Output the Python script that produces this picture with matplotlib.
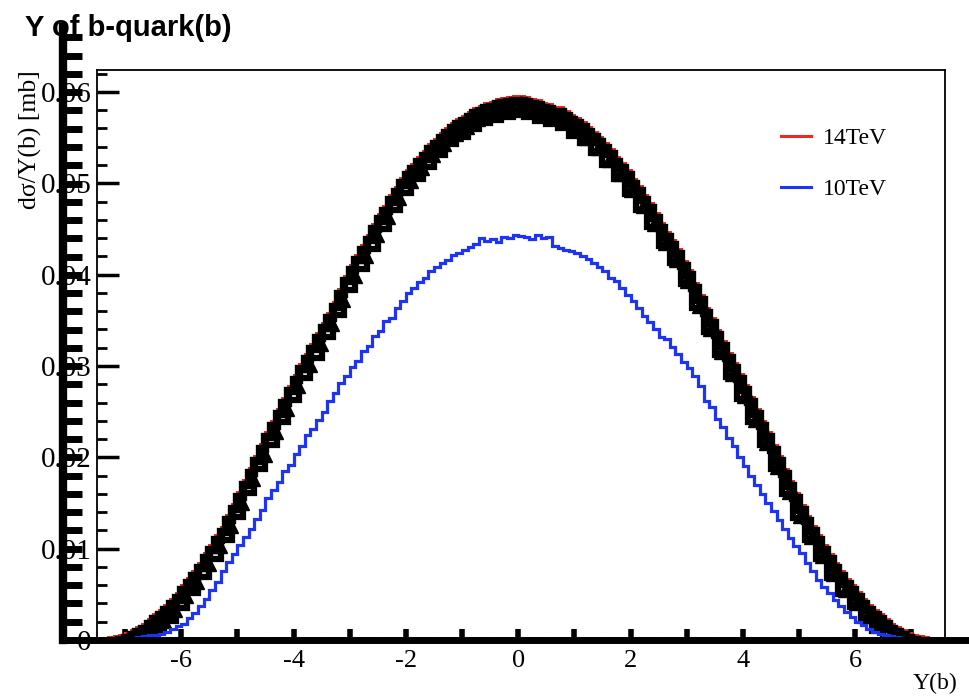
import numpy as np
import matplotlib
matplotlib.use('Agg')
import matplotlib.pyplot as plt
import matplotlib.transforms as mtransforms
from matplotlib.lines import Line2D
from matplotlib.ticker import MultipleLocator

# ---------------- data (bin contents in units of 1e-4 mb, 150 bins from -7.5 to 7.5) ----
x_min, x_max, n_bins = -7.5, 7.5, 150

y14_e4 = [
    1, 2, 3, 4, 6, 8, 11, 14, 18, 23, 28, 33, 38, 45, 52, 60, 68, 76, 84, 95,
    104, 115, 124, 137, 149, 162, 175, 188, 201, 215, 228, 240, 253, 265, 278, 290, 302, 313, 324, 336,
    347, 358, 370, 384, 398, 410, 422, 432, 443, 455, 466, 475, 487, 496, 506, 514, 521, 529, 535, 543,
    549, 555, 561, 566, 570, 574, 578, 582, 585, 588, 589, 592, 593, 594, 595,
    596, 594, 592, 591, 588, 587, 584, 583, 579, 575, 571, 567, 562, 556, 551, 544, 537, 529, 522, 514,
    505, 497, 487, 478, 468, 457, 447, 438, 428, 415, 405, 391, 378, 364, 352, 339, 327, 314, 303, 291,
    279, 266, 253, 240, 228, 214, 201, 187, 174, 161, 148, 136, 125, 115, 104, 94, 84, 76, 67, 60,
    53, 45, 38, 33, 28, 23, 18, 14, 11, 8, 6, 4, 3, 2, 1,
]

y10_e4 = [
    0, 0, 1, 1, 2, 2, 2, 3, 4, 5, 6, 7, 9, 12, 15, 18, 24, 30, 37, 45,
    55, 63, 75, 85, 94, 104, 113, 122, 133, 142, 156, 164, 173, 185, 192, 204, 212, 224, 231, 241,
    250, 262, 270, 281, 289, 299, 305, 316, 322, 333, 338, 349, 353, 364, 371, 380, 385, 392, 396, 404,
    408, 413, 416, 421, 424, 427, 430, 434, 440, 437, 439, 436, 441, 440, 443,
    442, 441, 439, 443, 440, 441, 431, 429, 427, 426, 424, 420, 417, 413, 408, 404, 396, 393, 385, 378,
    371, 364, 355, 348, 340, 332, 329, 321, 313, 304, 298, 289, 278, 262, 255, 242, 233, 221, 212, 200,
    191, 180, 170, 160, 150, 141, 131, 122, 112, 103, 95, 84, 75, 66, 58, 51, 44, 37, 31, 25,
    20, 16, 12, 9, 7, 5, 4, 3, 2, 2, 1, 1, 1, 0, 0,
]

series_labels = ['14TeV', '10TeV']
x_major = [-7, -6, -5, -4, -3, -2, -1, 0, 1, 2, 3, 4, 5, 6, 7]
x_labeled = [-6, -4, -2, 0, 2, 4, 6]
y_ticks = [0, 0.01, 0.02, 0.03, 0.04, 0.05, 0.06]
y_tick_labels = ['0', '0.01', '0.02', '0.03', '0.04', '0.05', '0.06']

title = 'Y of b-quark(b)'
x_title = 'Y(b)'
y_title = 'dσ/Y(b) [mb]'

RED = '#ee2a1f'
BLUE = '#1e34f2'
SERIF = ['Liberation Serif', 'DejaVu Serif']

# ---------------- figure -------------------------------------------------------------
W, H = 970, 700
fig = plt.figure(figsize=(W / 100, H / 100), dpi=100)
ax = fig.add_axes([97 / W, 60 / H, 848 / W, 570 / H])

edges = np.linspace(x_min, x_max, n_bins + 1)
v14 = np.array(y14_e4) * 1e-4
v10 = np.array(y10_e4) * 1e-4
centers = 0.5 * (edges[:-1] + edges[1:])

def shifted(dy, dx=0):
    return mtransforms.offset_copy(ax.transData, fig=fig, x=dx, y=dy, units='dots')

# red 14 TeV histogram
ax.stairs(v14, edges, color=RED, lw=2.2, zorder=2)
# heavy black overdraw of the 14 TeV histogram (artefact-like)
ax.stairs(v14, edges, color='black', lw=6, zorder=3, transform=shifted(-5))
coarse_edges = edges[::2]
coarse_vals = v14.reshape(-1, 2).mean(axis=1)[: len(coarse_edges) - 1]
ax.stairs(coarse_vals, coarse_edges, color='black', lw=4.5, zorder=3, transform=shifted(-19))
ax.plot(centers[1::2], v14[1::2], ls='none', marker='^', ms=13, color='black',
        zorder=3, transform=shifted(-9))
# blue 10 TeV histogram
ax.stairs(v10, edges, color=BLUE, lw=2.3, zorder=4)

ax.set_xlim(-7.5, 7.6)
ax.set_ylim(0, 0.0624)

ax.set_xticks(x_major)
ax.set_xticklabels([str(v) if v in x_labeled else '' for v in x_major])
ax.xaxis.set_minor_locator(MultipleLocator(0.5))
ax.set_yticks(y_ticks)
ax.set_yticklabels(y_tick_labels)
ax.yaxis.set_minor_locator(MultipleLocator(0.002))

ax.tick_params(axis='x', which='major', direction='in', length=8, width=4,
               labelsize=19, pad=7, top=False)
ax.tick_params(axis='x', which='minor', direction='in', length=2.5, width=3, top=False)
ax.tick_params(axis='y', which='major', direction='in', length=16, width=2.5,
               labelsize=21, pad=4, right=False)
ax.tick_params(axis='y', which='minor', direction='in', length=7, width=2, right=False)
for lab in ax.get_xticklabels() + ax.get_yticklabels():
    lab.set_family(SERIF)

for side in ['left', 'top', 'right']:
    ax.spines[side].set_linewidth(1.3)
ax.spines['bottom'].set_linewidth(4)

handles = [Line2D([], [], color=RED, lw=2.2), Line2D([], [], color=BLUE, lw=2.2)]
leg = ax.legend(handles, series_labels, loc='upper left', bbox_to_anchor=(0.795, 0.915),
                frameon=False, prop={'family': SERIF, 'size': 17}, handlelength=1.3,
                handletextpad=0.5, labelspacing=1.25, borderaxespad=0)

# ghost thick axis on the left plus the thick base line
gax = fig.add_axes([63 / W, 60 / H, (W - 63) / W, 613 / H])
gax.patch.set_visible(False)
gax.set_xlim(0, 1)
gax.set_ylim(0, 613 / 9130)
gax.set_xticks([])
gax.yaxis.set_major_locator(MultipleLocator(0.002))
gax.tick_params(axis='y', direction='in', length=14, width=5, labelleft=False)
for side in ['top', 'right']:
    gax.spines[side].set_visible(False)
gax.spines['left'].set_linewidth(6)
gax.spines['bottom'].set_linewidth(5)

fig.text(25 / W, 1 - 28 / H, title, ha='left', va='center', fontsize=21,
         fontweight='bold', family=['Liberation Sans', 'DejaVu Sans'])
fig.text(935 / W, 1 - 683 / H, x_title, ha='center', va='center', fontsize=17, family=SERIF)
fig.text(30 / W, 1 - 70 / H, y_title, ha='center', va='top', rotation=90, fontsize=18.5,
         family=SERIF)

fig.savefig('out.png', dpi=100, facecolor='white')
